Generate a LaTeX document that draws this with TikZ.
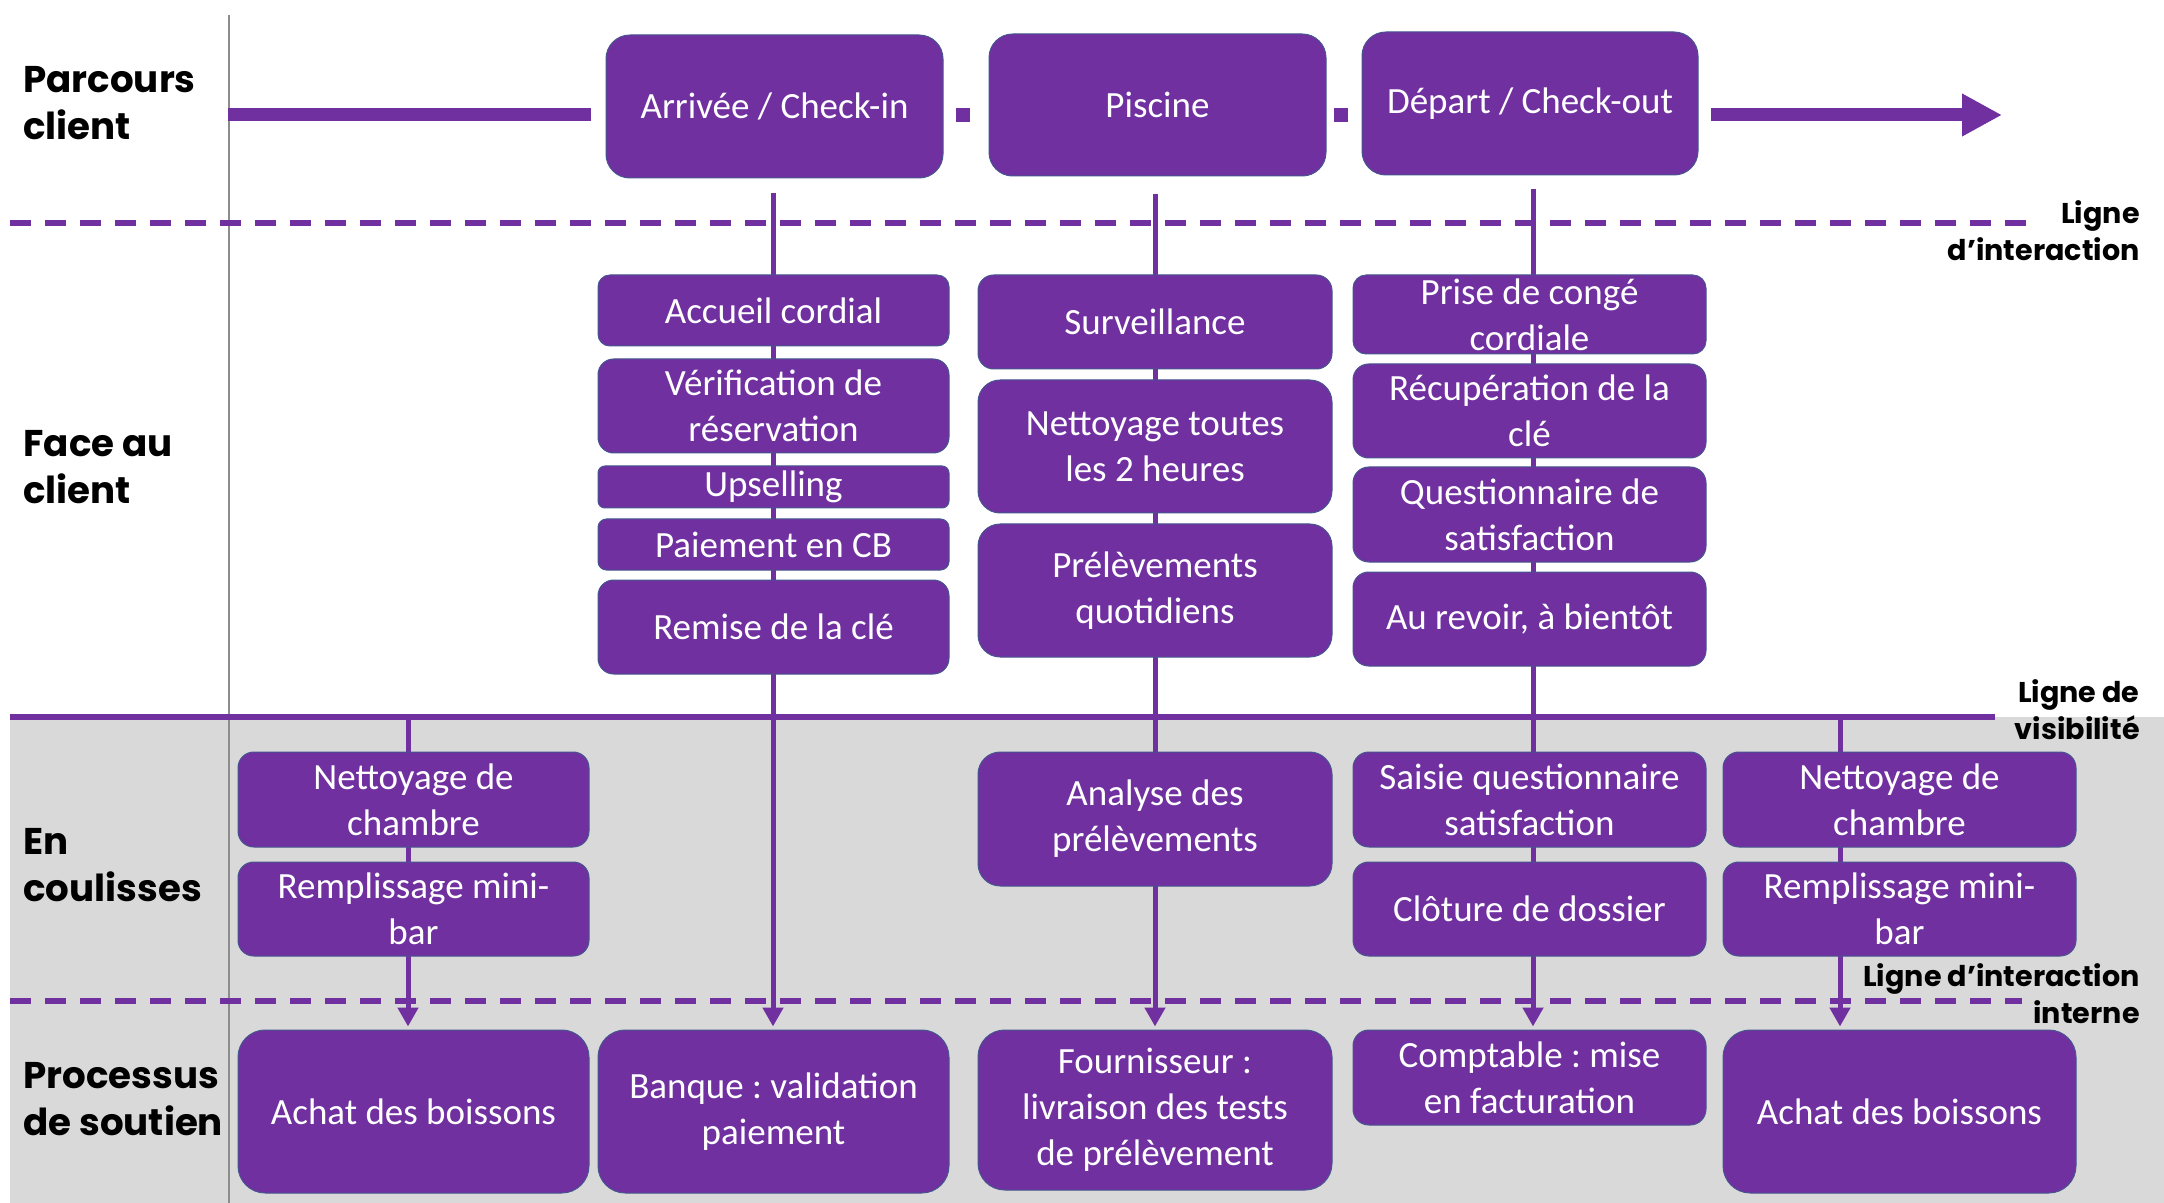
\documentclass[tikz,border=0pt]{standalone}
\usepackage{fontspec}
\setmainfont{Carlito}
\newfontfamily\lblfont{Poppins}
\usetikzlibrary{arrows.meta}
\definecolor{purp}{HTML}{7030A0}
\definecolor{bgray}{HTML}{D9D9D9}
\definecolor{bord}{HTML}{46568E}
\definecolor{vgray}{HTML}{8C8C8C}
\frenchspacing
\newcommand\mybox[6]{%
  \pgfmathsetmacro\myw{(#4-#2)*0.5}%
  \pgfmathsetmacro\myh{(#5-#3)*0.5}%
  \pgfmathsetmacro\myr{min(\myw,\myh)/6}%
  \node[boxst, minimum width=\myw pt, minimum height=\myh pt, rounded corners=\myr pt] (#1) at ({(#2+#4)/2},{(#3+#5)/2}) {};%
  \node[txtst] (#1t) at (#1.center) {#6};}
\begin{document}
\begin{tikzpicture}[x=0.5pt,y=-0.5pt,
  boxst/.style={fill=purp, draw=bord, line width=0.5pt, inner sep=0pt},
  txtst/.style={text=white, align=center, font=\fontsize{18.5}{23}\selectfont, inner sep=0pt},
  lbl/.style={font=\lblfont\bfseries\fontsize{18.6}{23.5}\selectfont, align=left, anchor=west, inner sep=0pt},
  rlbl/.style={font=\lblfont\bfseries\fontsize{14.3}{18.5}\selectfont, align=right, anchor=east, inner sep=0pt},
  dline/.style={purp, line width=2.75pt, dash pattern=on 10.5pt off 7pt},
  conn/.style={purp, line width=2.5pt},
  connarr/.style={conn, -{Triangle[width=10pt,length=9.5pt]}, shorten >=1.5pt},
  journey/.style={purp, line width=6.5pt},
]
\useasboundingbox (0,0) rectangle (2164,1203);
\fill[white] (0,0) rectangle (2164,1203);
% grey background for back-stage area
\fill[bgray] (10,717) rectangle (2164,1203);
% vertical separator
\draw[vgray, line width=0.8pt] (229,15) -- (229,1203);

% horizontal lines
\coordinate (di1) at (10,223);   \coordinate (di2) at (2035,223);
\coordinate (vi1) at (10,717);   \coordinate (vi2) at (1995,717);
\coordinate (ii1) at (10,1001);  \coordinate (ii2) at (2022,1001);
\draw[dline] (di1) -- (di2);
\draw[purp, line width=2.75pt] (vi1) -- (vi2);
\draw[dline] (ii1) -- (ii2);

% connector start points
\coordinate (c0s) at (408,717);
\coordinate (c1s) at (773,193);
\coordinate (c2s) at (1155,194);
\coordinate (c3s) at (1533,189);
\coordinate (c4s) at (1840,717);

% journey line
\coordinate (j1) at (228,115); \coordinate (j2) at (591,115);
\coordinate (j3) at (1711,115); \coordinate (j4) at (2002,115);
\draw[journey] (j1) -- (j2);
\draw[journey, -{Triangle[width=20pt,length=20pt]}] (j3) -- (j4);
\fill[purp] (956,108) rectangle (970,122);
\fill[purp] (1334,108) rectangle (1348,122);

% support processes
\mybox{s0}{238}{1030}{589}{1193}{Achat des boissons}
\mybox{s1}{598}{1030}{949}{1193}{Banque : validation\\paiement}
\mybox{s2}{978}{1030}{1332}{1190}{Fournisseur :\\livraison des tests\\de prélèvement}
\mybox{s3}{1353}{1030}{1706}{1125}{Comptable : mise\\en facturation}
\mybox{s4}{1723}{1030}{2076}{1193}{Achat des boissons}

\draw[connarr] (c0s) -- (c0s |- s0.north);
\draw[connarr] (c1s) -- (c1s |- s1.north);
\draw[connarr] (c2s) -- (c2s |- s2.north);
\draw[connarr] (c3s) -- (c3s |- s3.north);
\draw[connarr] (c4s) -- (c4s |- s4.north);

% top row
\mybox{t1}{606}{35}{943}{178}{Arrivée / Check-in}
\mybox{t2}{989}{34}{1326}{176}{Piscine}
\mybox{t3}{1362}{32}{1698}{175}{Départ / Check-out}

% face au client
\mybox{f1a}{598}{275}{949}{346}{Accueil cordial}
\mybox{f1b}{598}{359}{949}{453}{Vérification de\\réservation}
\mybox{f1c}{598}{466}{949}{508}{Upselling}
\mybox{f1d}{598}{519}{949}{570}{Paiement en CB}
\mybox{f1e}{598}{580}{949}{674}{Remise de la clé}

\mybox{f2a}{978}{275}{1332}{369}{Surveillance}
\mybox{f2b}{978}{380}{1332}{513}{Nettoyage toutes\\les 2 heures}
\mybox{f2c}{978}{524}{1332}{657}{Prélèvements\\quotidiens}

\mybox{f3a}{1353}{275}{1706}{354}{Prise de congé\\cordiale}
\mybox{f3b}{1353}{364}{1706}{458}{Récupération de la\\clé}
\mybox{f3c}{1353}{467}{1706}{562}{Questionnaire de\\satisfaction}
\mybox{f3d}{1353}{572}{1706}{666}{Au revoir, à bientôt}

% en coulisses
\mybox{b0a}{238}{752}{589}{847}{Nettoyage de\\chambre}
\mybox{b0b}{238}{862}{589}{956}{Remplissage mini-\\bar}
\mybox{b2a}{978}{752}{1332}{886}{Analyse des\\prélèvements}
\mybox{b3a}{1353}{752}{1706}{847}{Saisie questionnaire\\satisfaction}
\mybox{b3b}{1353}{862}{1706}{956}{Clôture de dossier}
\mybox{b4a}{1723}{752}{2076}{847}{Nettoyage de\\chambre}
\mybox{b4b}{1723}{862}{2076}{956}{Remplissage mini-\\bar}

% lane labels
\node[lbl] (lp) at (23,103) {Parcours\\client};
\node[lbl] (lf) at (23,467) {Face au\\client};
\node[lbl] (lc) at (23,865) {En\\coulisses};
\node[lbl] (ls) at (23,1099) {Processus\\de soutien};

% line labels
\node[rlbl] (ri) at (2140,231) {Ligne\\d’interaction};
\node[rlbl] (rv) at (2140,710) {Ligne de\\visibilité};
\node[rlbl] (rii) at (2140,994) {Ligne d’interaction\\interne};
\end{tikzpicture}
\end{document}
